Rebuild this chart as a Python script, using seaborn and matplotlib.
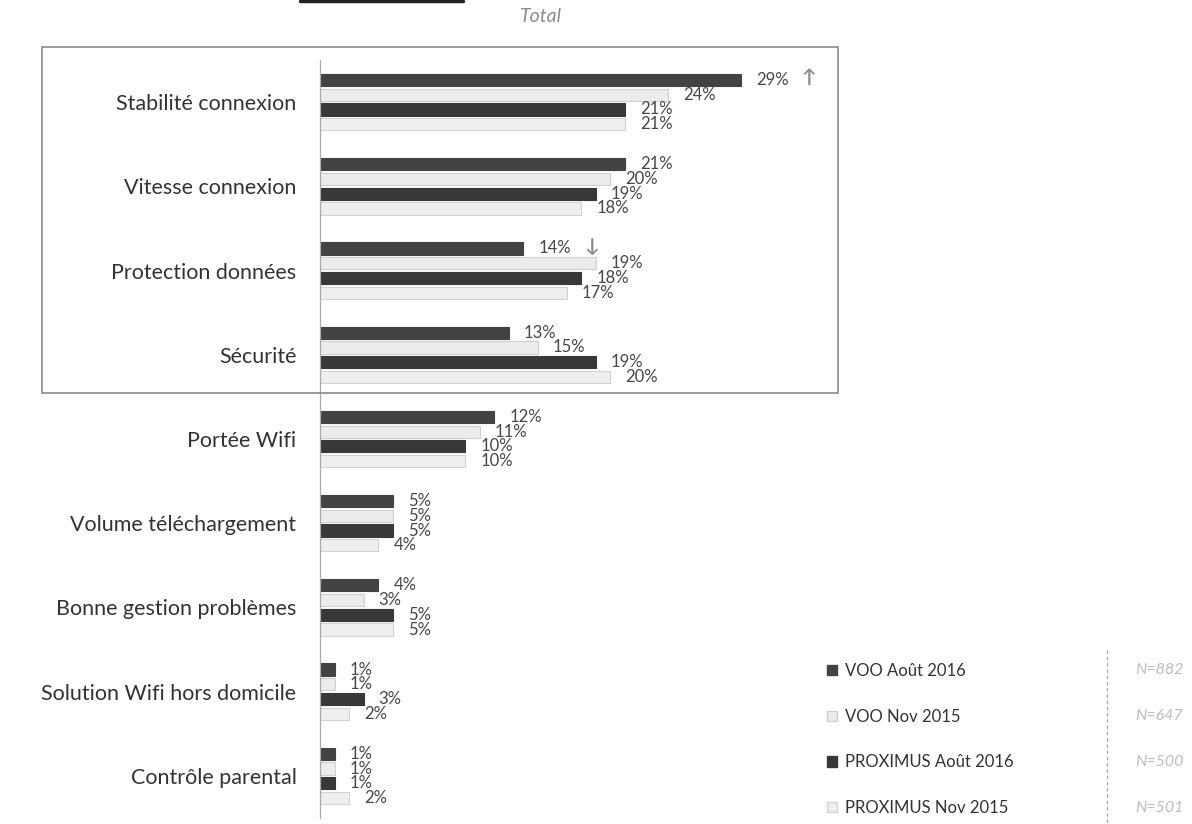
""" Horizontal grouped bars: reasons cited, VOO vs PROXIMUS. """
import numpy as np
import pandas as pd
import seaborn as sns
import matplotlib.pyplot as plt
from matplotlib.patches import Rectangle, Patch
from matplotlib.lines import Line2D

sns.set_style("white")
plt.rcParams['font.family'] = ['Lato', 'DejaVu Sans']

categories = ["Stabilité connexion", "Vitesse connexion", "Protection données", "Sécurité",
              "Portée Wifi", "Volume téléchargement", "Bonne gestion problèmes",
              "Solution Wifi hors domicile", "Contrôle parental"]
series = ["VOO Août 2016", "VOO Nov 2015", "PROXIMUS Août 2016", "PROXIMUS Nov 2015"]
sample_sizes = ["N=882", "N=647", "N=500", "N=501"]

voo_2016 = [29, 21, 14, 13, 12, 5, 4, 1, 1]
voo_2015 = [24, 20, 19, 15, 11, 5, 3, 1, 1]
prox_2016 = [21, 19, 18, 19, 10, 5, 5, 3, 1]
prox_2015 = [21, 18, 17, 20, 10, 4, 5, 2, 2]

# significant moves vs previous wave (series index, category index, arrow)
trend_marks = [(0, 0, "↑"), (0, 2, "↓")]

df = pd.DataFrame({
    "categorie": categories * 4,
    "serie": np.repeat(series, len(categories)),
    "pct": voo_2016 + voo_2015 + prox_2016 + prox_2015,
})

fills = {"VOO Août 2016": "#434343", "VOO Nov 2015": "#ececec",
         "PROXIMUS Août 2016": "#383838", "PROXIMUS Nov 2015": "#efefef"}
edges = {"VOO Août 2016": "#434343", "VOO Nov 2015": "#cfcfcf",
         "PROXIMUS Août 2016": "#383838", "PROXIMUS Nov 2015": "#d2d2d2"}

W, H = 1192, 824
fig = plt.figure(figsize=(W / 100, H / 100), dpi=100)
ax = fig.add_axes([320 / W, 1 - 818 / H, 870 / W, 758 / H])

sns.barplot(data=df, y="categorie", x="pct", hue="serie", order=categories,
            hue_order=series, palette=fills, orient="h", width=0.7, gap=0.17,
            legend=False, ax=ax)

for name, cont in zip(series, ax.containers):
    for p in cont:
        p.set_edgecolor(edges[name])
        p.set_linewidth(0.8)
    ax.bar_label(cont, labels=[f"{int(round(p.get_width()))}%" for p in cont],
                 padding=11, fontsize=12, color="#474747")

for s, c, arrow in trend_marks:
    p = ax.containers[s][c]
    ax.annotate(arrow, xy=(p.get_width(), p.get_y() + p.get_height() / 2),
                xytext=(44, 1), textcoords="offset points", va="center", ha="left",
                fontsize=14, color="#8a8a8a", fontweight="bold")

ax.set_xlim(0, 60)
ax.set_ylim(len(categories) - 0.5, -0.5)
ax.set_xlabel("")
ax.set_ylabel("")
ax.set_xticks([])
ax.tick_params(axis="y", length=0, pad=17, labelsize=15.5, labelcolor="#333333")
ax.set_yticks(np.arange(len(categories) + 1) - 0.5, minor=True)
ax.tick_params(axis="y", which="minor", length=4, color="#aaaaaa")
for side in ["top", "right", "bottom"]:
    ax.spines[side].set_visible(False)
ax.spines["left"].set_color("#aaaaaa")
ax.spines["left"].set_linewidth(0.9)

fig.text(541 / W, 1 - 16 / H, "Total", ha="center", va="center",
         fontsize=14, style="italic", color="#8c8c8c")

# box round the four main reasons
fig.patches.append(Rectangle((42 / W, 1 - 393 / H), (838 - 42) / W, (393 - 47) / H,
                             transform=fig.transFigure, fill=False,
                             edgecolor="#8a8a8a", linewidth=1.2))
fig.lines.append(Line2D([300 / W, 463 / W], [1 - 1 / H, 1 - 1 / H],
                        transform=fig.transFigure, color="#222222", linewidth=2.5))

handles = [Patch(facecolor=fills[s], edgecolor=edges[s]) for s in series]
fig.legend(handles, series, loc="upper left", bbox_to_anchor=(812 / W, 1 - 648 / H),
           frameon=False, fontsize=12, labelspacing=1.78, handlelength=0.6,
           handleheight=0.6, handletextpad=0.5, labelcolor="#333333")

for i, n in enumerate(sample_sizes):
    fig.text(1135 / W, 1 - (670 + i * 46) / H, n, ha="left", va="center",
             fontsize=11.5, style="italic", color="#bdbdbd")
fig.lines.append(Line2D([1107 / W, 1107 / W], [1 - 650 / H, 0], transform=fig.transFigure,
                        color="#aaaaaa", linewidth=0.9, linestyle=(0, (3, 2))))

fig.savefig("out.png", dpi=100)
